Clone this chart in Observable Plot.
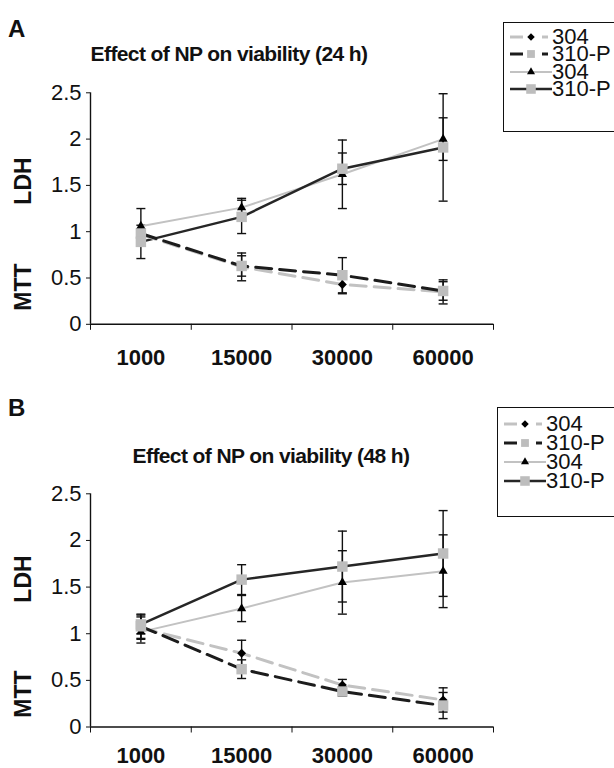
<!DOCTYPE html>
<html>
<head>
<meta charset="utf-8">
<script src="https://cdn.jsdelivr.net/npm/d3@7"></script>
<script src="https://cdn.jsdelivr.net/npm/@observablehq/plot@0.6"></script>
<style>
  body { margin: 0; background: #fff; }
  #page { position: relative; width: 614px; height: 768px; overflow: hidden; font-family: Arial, "Liberation Sans", sans-serif; color: #111; }
  .abs { position: absolute; white-space: nowrap; line-height: 1; }
  .plot { position: absolute; left: 0; }
  .legend { position: absolute; border: 1.5px solid #111; background: #fff; box-sizing: border-box; }
</style>
</head>
<body>
<div id="page"></div>
<script>
// ---------- data ----------
const doses = ["1000", "15000", "30000", "60000"];
const legendLabels = ["304", "310-P", "304", "310-P"];
const yTicks = [0, 0.5, 1, 1.5, 2, 2.5];

// Panel A (24 h)
const mtt304_24 = [0.97, 0.62, 0.43, 0.35];
const mtt304_24Err = [0.05, 0.15, 0.10, 0.13];
const mtt310_24 = [0.98, 0.63, 0.53, 0.36];
const mtt310_24Err = [0.05, 0.11, 0.19, 0.10];
const ldh304_24 = [1.06, 1.26, 1.62, 2.00];
const ldh304_24Err = [0.19, 0.10, 0.37, 0.23];
const ldh310_24 = [0.89, 1.16, 1.68, 1.91];
const ldh310_24Err = [0.18, 0.18, 0.17, 0.58];

// Panel B (48 h)
const mtt304_48 = [1.06, 0.79, 0.45, 0.29];
const mtt304_48Err = [0.12, 0.14, 0.06, 0.13];
const mtt310_48 = [1.08, 0.62, 0.38, 0.23];
const mtt310_48Err = [0.13, 0.10, 0.05, 0.14];
const ldh304_48 = [1.02, 1.27, 1.55, 1.67];
const ldh304_48Err = [0.12, 0.14, 0.34, 0.39];
const ldh310_48 = [1.10, 1.58, 1.72, 1.86];
const ldh310_48Err = [0.10, 0.16, 0.38, 0.46];

// ---------- styles (legend order) ----------
const seriesStyles = [
  {stroke: "#c2c2c2", width: 3, dash: "16,8", symbol: "diamond2", fill: "#000", r: 4.0, lr: 3.4, dashed: true},
  {stroke: "#1c1c1c", width: 3, dash: "16,8", symbol: "square", fill: "#bdbdbd", r: 5.9, lr: 4.4, dashed: true},
  {stroke: "#c2c2c2", width: 2, dash: null, symbol: "triangle", fill: "#000", r: 3.4, lr: 3.0, dashed: false},
  {stroke: "#262626", width: 2.5, dash: null, symbol: "square", fill: "#bdbdbd", r: 5.9, lr: 5.4, dashed: false}
];
const d3Symbols = {diamond2: d3.symbolDiamond2, square: d3.symbolSquare, triangle: d3.symbolTriangle};

const panels = [
  {
    letter: "A", title: "Effect of NP on viability (24 h)",
    series: [[mtt304_24, mtt304_24Err], [mtt310_24, mtt310_24Err], [ldh304_24, ldh304_24Err], [ldh310_24, ldh310_24Err]],
    svgTop: 80, svgHeight: 300, marginTop: 12.3, marginBottom: 56.2, tickPadding: 25,
    titleX: 229, titleY: 53, letterY: 28.5,
    legendLeft: 503, legendTop: 22, legendHeight: 110, rowFirst: 14, rowGap: 17.3,
    ldhY: 180.7, mttY: 287.3
  },
  {
    letter: "B", title: "Effect of NP on viability (48 h)",
    series: [[mtt304_48, mtt304_48Err], [mtt310_48, mtt310_48Err], [ldh304_48, ldh304_48Err], [ldh310_48, ldh310_48Err]],
    svgTop: 470, svgHeight: 298, marginTop: 23.3, marginBottom: 41.5, tickPadding: 20,
    titleX: 271, titleY: 455, letterY: 407.5,
    legendLeft: 497, legendTop: 407, legendHeight: 110, rowFirst: 15.7, rowGap: 19,
    ldhY: 579, mttY: 694
  }
];

const capSymbol = {
  draw(context, size) {
    const r = Math.sqrt(size / Math.PI);
    context.moveTo(-r, 0);
    context.lineTo(r, 0);
  }
};

const page = document.getElementById("page");

function addText(parent, text, css) {
  const el = document.createElement("div");
  el.className = "abs";
  el.textContent = text;
  Object.assign(el.style, css);
  parent.appendChild(el);
  return el;
}

for (const p of panels) {
  const rowsBySeries = p.series.map(([vals, errs], s) =>
    doses.map((d, i) => ({dose: d, xi: i + 0.5, v: vals[i], e: errs[i], s}))
  );
  const allRows = rowsBySeries.flat();

  const lineOrder = [2, 3, 0, 1];
  const markerOrder = [0, 2, 1, 3];

  const marks = [
    Plot.ruleX(allRows, {x: "xi", y1: d => d.v - d.e, y2: d => d.v + d.e, stroke: "#111", strokeWidth: 1.4}),
    Plot.dot(allRows, {x: "xi", y: d => d.v + d.e, symbol: capSymbol, r: 4.5, stroke: "#111", strokeWidth: 1.4, fill: "none"}),
    Plot.dot(allRows, {x: "xi", y: d => d.v - d.e, symbol: capSymbol, r: 4.5, stroke: "#111", strokeWidth: 1.4, fill: "none"}),
    ...lineOrder.map(s => {
      const st = seriesStyles[s];
      return Plot.line(rowsBySeries[s], {x: "xi", y: "v", stroke: st.stroke, strokeWidth: st.width, strokeDasharray: st.dash || undefined});
    }),
    ...markerOrder.map(s => {
      const st = seriesStyles[s];
      return Plot.dot(rowsBySeries[s], {x: "xi", y: "v", symbol: st.symbol, r: st.r, fill: st.fill, stroke: "none"});
    }),
    Plot.ruleY([0], {stroke: "#111", strokeWidth: 1.4}),
    Plot.ruleX([0], {stroke: "#111", strokeWidth: 1.4}),
    Plot.axisY({ticks: yTicks, tickFormat: d => String(d), tickSize: 4, tickPadding: 5, fontSize: 22, label: null, stroke: "#111"}),
    Plot.axisX({ticks: d3.range(0, doses.length + 1), tickFormat: () => "", tickSize: 6, label: null, stroke: "#111"}),
    Plot.axisX({ticks: doses.map((d, i) => i + 0.5), tickFormat: t => doses[Math.floor(t)], tickSize: 0, tickPadding: p.tickPadding, fontSize: 22, fontWeight: "bold", label: null})
  ];

  const chart = Plot.plot({
    width: 614,
    height: p.svgHeight,
    marginLeft: 90,
    marginRight: 121,
    marginTop: p.marginTop,
    marginBottom: p.marginBottom,
    x: {domain: [0, doses.length], label: null},
    y: {domain: [0, 2.5], label: null},
    style: {fontFamily: "Arial, 'Liberation Sans', sans-serif", color: "#111", background: "transparent", overflow: "visible"},
    marks
  });
  chart.classList.add("plot");
  chart.style.top = p.svgTop + "px";
  page.appendChild(chart);

  addText(page, p.letter, {left: "8px", top: p.letterY + "px", transform: "translateY(-50%)", fontSize: "24px", fontWeight: "bold"});
  addText(page, p.title, {left: p.titleX + "px", top: p.titleY + "px", transform: "translate(-50%,-50%)", fontSize: "21px", fontWeight: "bold", letterSpacing: "-0.6px"});
  addText(page, "LDH", {left: "23px", top: p.ldhY + "px", transform: "translate(-50%,-50%) rotate(-90deg)", fontSize: "23px", fontWeight: "bold"});
  addText(page, "MTT", {left: "23px", top: p.mttY + "px", transform: "translate(-50%,-50%) rotate(-90deg)", fontSize: "23px", fontWeight: "bold"});

  // legend
  const lg = document.createElement("div");
  lg.className = "legend";
  Object.assign(lg.style, {left: p.legendLeft + "px", top: p.legendTop + "px", width: "150px", height: p.legendHeight + "px"});
  page.appendChild(lg);
  seriesStyles.forEach((st, k) => {
    const cy = p.rowFirst + k * p.rowGap;
    const svg = d3.create("svg").attr("width", 46).attr("height", 16)
      .style("position", "absolute").style("left", "6px").style("top", (cy - 8) + "px").style("overflow", "visible");
    if (st.dashed) {
      svg.append("line").attr("x1", 0).attr("x2", 13).attr("y1", 8).attr("y2", 8).attr("stroke", st.stroke).attr("stroke-width", st.width);
      svg.append("line").attr("x1", 32).attr("x2", 38).attr("y1", 8).attr("y2", 8).attr("stroke", st.stroke).attr("stroke-width", st.width);
    } else {
      svg.append("line").attr("x1", 0).attr("x2", 42).attr("y1", 8).attr("y2", 8).attr("stroke", st.stroke).attr("stroke-width", st.width);
    }
    svg.append("path").attr("transform", "translate(21,8)")
      .attr("d", d3.symbol(d3Symbols[st.symbol], st.lr * st.lr * Math.PI)()).attr("fill", st.fill);
    lg.appendChild(svg.node());
    addText(lg, legendLabels[k], {left: "48px", top: cy + "px", transform: "translateY(-50%)", fontSize: "22px", lineHeight: "16px"});
  });
}
</script>
</body>
</html>
